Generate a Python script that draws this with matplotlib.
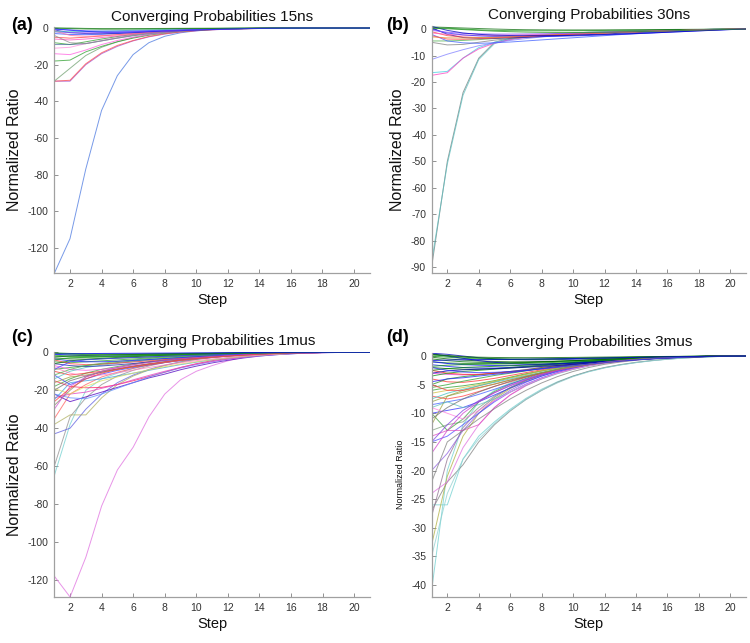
import matplotlib
matplotlib.use('Agg')
import matplotlib.pyplot as plt
import numpy as np

plt.rcParams['font.family'] = ['Liberation Sans', 'DejaVu Sans']

steps = list(range(1, 22))
x_ticks = [2, 4, 6, 8, 10, 12, 14, 16, 18, 20]

titles = ['Converging Probabilities 15ns', 'Converging Probabilities 30ns',
          'Converging Probabilities 1mus', 'Converging Probabilities 3mus']
panel_tags = ['(a)', '(b)', '(c)', '(d)']
y_label = 'Normalized Ratio'
x_label = 'Step'

# ---------------- panel (a) 15ns ----------------
a_lines = [
    [-134, -115, -77, -45, -26, -14.5, -8, -4.5, -2.6, -1.5, -0.9, -0.5, -0.3, -0.2, -0.1, -0.05, 0, 0, 0, 0, 0],
    [-29, -29, -20, -14, -10, -7, -4.8, -3.3, -2.2, -1.5, -1, -0.6, -0.4, -0.25, -0.15, -0.1, -0.05, 0, 0, 0, 0],
    [-29, -28.5, -19.5, -13.5, -9.5, -6.8, -4.6, -3.1, -2.1, -1.4, -0.9, -0.6, -0.4, -0.25, -0.15, -0.1, -0.05, 0, 0, 0, 0],
    [-29, -22, -15, -10.5, -7.5, -5.2, -3.6, -2.5, -1.7, -1.1, -0.7, -0.45, -0.3, -0.2, -0.1, -0.05, 0, 0, 0, 0, 0],
    [-18, -17.5, -13, -10, -7.5, -5.5, -3.9, -2.7, -1.8, -1.2, -0.8, -0.5, -0.3, -0.2, -0.1, -0.05, 0, 0, 0, 0, 0],
    [-14, -14.5, -12, -9, -6.8, -5, -3.6, -2.5, -1.7, -1.1, -0.7, -0.45, -0.3, -0.2, -0.1, -0.05, 0, 0, 0, 0, 0],
    [-11, -10.5, -8.5, -6.8, -5.2, -3.9, -2.8, -2, -1.4, -0.9, -0.6, -0.4, -0.25, -0.15, -0.1, -0.05, 0, 0, 0, 0, 0],
    [-8, -9, -7.5, -6, -4.6, -3.5, -2.6, -1.9, -1.3, -0.9, -0.6, -0.4, -0.25, -0.15, -0.1, -0.05, 0, 0, 0, 0, 0],
    [-9, -9, -8.5, -7, -5.5, -4.2, -3.1, -2.2, -1.5, -1, -0.65, -0.4, -0.25, -0.15, -0.1, -0.05, 0, 0, 0, 0, 0],
    [-6, -6.5, -6, -5.2, -4.3, -3.4, -2.6, -1.9, -1.3, -0.9, -0.6, -0.4, -0.25, -0.15, -0.1, -0.05, 0, 0, 0, 0, 0],
    [-5, -5.5, -5, -4.3, -3.6, -2.9, -2.2, -1.6, -1.1, -0.75, -0.5, -0.3, -0.2, -0.1, -0.05, 0, 0, 0, 0, 0, 0],
    [-4, -8, -8.5, -7, -5.5, -4, -2.9, -2, -1.4, -0.9, -0.6, -0.4, -0.25, -0.15, -0.1, -0.05, 0, 0, 0, 0, 0],
    [-3, -3.5, -3.6, -3.4, -3, -2.6, -2.1, -1.6, -1.2, -0.85, -0.6, -0.4, -0.25, -0.15, -0.1, -0.05, 0, 0, 0, 0, 0],
    [-1, -2.5, -3, -3.1, -2.9, -2.6, -2.2, -1.8, -1.4, -1, -0.7, -0.5, -0.3, -0.2, -0.1, -0.05, 0, 0, 0, 0, 0],
    [-2, -2.5, -2.6, -2.5, -2.3, -2, -1.7, -1.4, -1.1, -0.8, -0.55, -0.38, -0.25, -0.15, -0.1, -0.05, 0, 0, 0, 0, 0],
    [-1.5, -4, -4.5, -4.2, -3.6, -3, -2.4, -1.8, -1.3, -0.9, -0.6, -0.4, -0.25, -0.15, -0.1, -0.05, 0, 0, 0, 0, 0],
    [-2, -2, -1.9, -1.7, -1.5, -1.2, -1, -0.8, -0.6, -0.45, -0.3, -0.2, -0.1, -0.05, 0, 0, 0, 0, 0, 0, 0],
    [-0.5, -1, -1.5, -1.7, -1.7, -1.6, -1.4, -1.2, -1, -0.8, -0.6, -0.4, -0.3, -0.2, -0.1, -0.05, 0, 0, 0, 0, 0],
    [0, -0.3, -0.5, -0.6, -0.6, -0.55, -0.5, -0.4, -0.3, -0.25, -0.2, -0.15, -0.1, -0.05, 0, 0, 0, 0, 0, 0, 0],
    [0, 0, -0.2, -0.3, -0.3, -0.3, -0.25, -0.2, -0.15, -0.1, -0.1, -0.05, 0, 0, 0, 0, 0, 0, 0, 0, 0],
    [-0.5, -1.2, -1.8, -2.2, -2.3, -2.2, -2, -1.7, -1.4, -1.1, -0.8, -0.55, -0.35, -0.2, -0.1, -0.05, 0, 0, 0, 0, 0],
]
a_colors = ['#4a78e0', '#a050d0', '#ff5050', '#70a070', '#30a030', '#ff60e0', '#ff90e0',
            '#30a030', '#5070a0', '#ff50c0', '#ff4040', '#909090', '#3050ff', '#2020c0',
            '#9040ff', '#ff70a0', '#40c0c0', '#4040ff', '#108010', '#208020', '#2020ff']

# ---------------- panel (b) 30ns ----------------
b_lines = [
    [-90, -50, -24, -11, -5, -3.5, -2.7, -2.2, -1.8, -1.5, -1.2, -1, -0.8, -0.6, -0.5, -0.4, -0.3, -0.2, -0.1, -0.05, 0],
    [-88, -51, -25, -11.5, -5.5, -3.8, -2.9, -2.3, -1.9, -1.5, -1.2, -1, -0.8, -0.6, -0.5, -0.4, -0.3, -0.2, -0.1, -0.05, 0],
    [-16.5, -16, -11, -7, -5, -3.8, -3, -2.5, -2.1, -1.8, -1.5, -1.2, -1, -0.8, -0.6, -0.45, -0.3, -0.2, -0.1, -0.05, 0],
    [-17.5, -16.5, -11, -7.5, -5.3, -4, -3.2, -2.6, -2.2, -1.8, -1.5, -1.2, -1, -0.8, -0.6, -0.45, -0.3, -0.2, -0.1, -0.05, 0],
    [-11.5, -9.5, -7.8, -6.3, -5.2, -4.3, -3.6, -3, -2.5, -2.1, -1.7, -1.4, -1.1, -0.85, -0.65, -0.5, -0.35, -0.22, -0.12, -0.05, 0],
    [-5, -6, -5.8, -5, -4.2, -3.6, -3.1, -2.7, -2.3, -2, -1.7, -1.4, -1.15, -0.9, -0.7, -0.52, -0.37, -0.24, -0.13, -0.05, 0],
    [-4.5, -4.5, -4.3, -4, -3.6, -3.2, -2.8, -2.5, -2.2, -1.9, -1.6, -1.35, -1.1, -0.88, -0.68, -0.5, -0.35, -0.22, -0.12, -0.05, 0],
    [-2, -4.5, -5.2, -5.4, -5.2, -4.9, -4.5, -4.1, -3.7, -3.3, -2.9, -2.5, -2.1, -1.75, -1.4, -1.08, -0.8, -0.54, -0.32, -0.14, 0],
    [0.5, -2, -3.2, -3.5, -3.5, -3.3, -3.1, -2.85, -2.6, -2.35, -2.1, -1.85, -1.6, -1.35, -1.1, -0.87, -0.65, -0.45, -0.27, -0.12, 0],
    [-1, -2.5, -3, -3.2, -3.1, -2.9, -2.7, -2.45, -2.2, -1.95, -1.7, -1.47, -1.25, -1.04, -0.84, -0.66, -0.49, -0.34, -0.2, -0.09, 0],
    [-1.5, -2, -2.3, -2.4, -2.4, -2.3, -2.15, -2, -1.83, -1.66, -1.48, -1.3, -1.12, -0.95, -0.78, -0.62, -0.47, -0.33, -0.2, -0.09, 0],
    [0.5, 0.3, 0, -0.3, -0.5, -0.6, -0.65, -0.66, -0.65, -0.62, -0.58, -0.53, -0.47, -0.41, -0.35, -0.29, -0.23, -0.17, -0.11, -0.05, 0],
    [0.8, 0.6, 0.4, 0.2, 0, -0.15, -0.25, -0.3, -0.33, -0.34, -0.33, -0.31, -0.28, -0.25, -0.21, -0.17, -0.13, -0.09, -0.06, -0.03, 0],
    [0, -1.5, -2.2, -2.6, -2.8, -2.9, -2.9, -2.85, -2.75, -2.6, -2.42, -2.22, -2, -1.76, -1.5, -1.22, -0.94, -0.66, -0.4, -0.18, 0],
    [-3, -3.3, -3.4, -3.3, -3.1, -2.9, -2.65, -2.4, -2.15, -1.9, -1.67, -1.45, -1.24, -1.04, -0.85, -0.67, -0.5, -0.35, -0.21, -0.09, 0],
    [-2.5, -3.8, -3.9, -3.7, -3.4, -3.1, -2.8, -2.5, -2.2, -1.95, -1.7, -1.47, -1.25, -1.05, -0.86, -0.68, -0.51, -0.36, -0.22, -0.1, 0],
    [-0.5, -1.2, -1.6, -1.8, -1.9, -1.9, -1.85, -1.78, -1.68, -1.57, -1.44, -1.3, -1.15, -1, -0.84, -0.68, -0.52, -0.37, -0.23, -0.1, 0],
    [1, -0.5, -1.5, -2, -2.3, -2.45, -2.5, -2.48, -2.42, -2.32, -2.2, -2.05, -1.88, -1.68, -1.46, -1.22, -0.97, -0.71, -0.45, -0.21, 0],
    [0.3, 0.1, -0.2, -0.5, -0.8, -1, -1.15, -1.25, -1.3, -1.3, -1.27, -1.2, -1.1, -0.98, -0.85, -0.7, -0.55, -0.4, -0.25, -0.11, 0],
]
b_colors = ['#708080', '#60c0c0', '#40d0e0', '#ff40c0', '#8080ff', '#808080', '#50b050',
            '#4060ff', '#1010a0', '#ff4040', '#ff60c0', '#20a020', '#107010', '#3030ff',
            '#e0a040', '#ff5050', '#9050ff', '#0000c0', '#209020']

# ---------------- panel (c) 1mus ----------------
c_lines = [
    [-118, -129, -108, -81, -62, -50, -34, -22, -14.5, -10, -7, -4.5, -2.6, -1.3, -0.7, -0.4, -0.2, -0.1, 0, 0, 0],
    [-65, -38, -20, -14, -11, -8.5, -6.5, -5, -3.8, -2.8, -2, -1.4, -1, -0.6, -0.4, -0.2, -0.1, 0, 0, 0, 0],
    [-60, -34, -24, -17, -12.5, -9.5, -7.2, -5.4, -4, -3, -2.2, -1.6, -1.1, -0.7, -0.4, -0.2, -0.1, 0, 0, 0, 0],
    [-43, -40, -30, -22, -16, -12, -9, -6.8, -5, -3.7, -2.7, -1.9, -1.3, -0.9, -0.5, -0.3, -0.1, 0, 0, 0, 0],
    [-38, -33, -33, -24, -17, -12.5, -9.3, -7, -5.2, -3.8, -2.8, -2, -1.4, -0.9, -0.5, -0.3, -0.1, 0, 0, 0, 0],
    [-35, -22, -17, -13, -10.5, -8.5, -6.8, -5.4, -4.2, -3.2, -2.4, -1.8, -1.2, -0.8, -0.5, -0.3, -0.1, 0, 0, 0, 0],
    [-22, -26, -23.5, -21, -18.5, -16, -13.5, -11.5, -9.2, -7.3, -5.6, -4.2, -3, -2, -1.3, -0.8, -0.4, -0.2, -0.1, 0, 0],
    [-15, -18, -18.7, -18.5, -17, -15, -12.8, -10.5, -8, -6, -4.4, -3.2, -2.2, -1.5, -1, -0.6, -0.3, -0.15, 0, 0, 0],
    [-22, -24, -24.5, -22, -19, -16, -13, -10.5, -8.3, -6.5, -5, -3.7, -2.7, -1.9, -1.3, -0.8, -0.4, -0.2, -0.1, 0, 0],
    [-24, -22, -21, -19, -17, -14.5, -12.2, -10, -8, -6.2, -4.8, -3.6, -2.6, -1.8, -1.2, -0.7, -0.4, -0.2, 0, 0, 0],
    [-25, -16, -15, -14, -12.5, -11, -9.5, -8, -6.5, -5.2, -4, -3, -2.2, -1.5, -1, -0.6, -0.3, -0.1, 0, 0, 0],
    [-19, -22, -18, -15, -13, -11, -9.2, -7.6, -6.2, -5, -3.9, -3, -2.2, -1.5, -1, -0.6, -0.3, -0.1, 0, 0, 0],
    [-18, -14, -11, -9, -7.5, -6.2, -5, -4, -3.2, -2.5, -1.9, -1.4, -1, -0.7, -0.4, -0.2, -0.1, 0, 0, 0, 0],
    [-12, -17, -14, -11.5, -9.5, -8, -6.6, -5.4, -4.4, -3.5, -2.7, -2, -1.5, -1, -0.7, -0.4, -0.2, -0.1, 0, 0, 0],
    [-10, -12, -11, -10, -8.8, -7.6, -6.4, -5.3, -4.3, -3.4, -2.6, -2, -1.4, -1, -0.6, -0.4, -0.2, -0.1, 0, 0, 0],
    [-28, -20, -13, -10, -8, -6.5, -5.2, -4.2, -3.3, -2.6, -2, -1.5, -1.1, -0.7, -0.5, -0.3, -0.1, 0, 0, 0, 0],
    [-9, -8, -7, -6.2, -5.4, -4.6, -3.9, -3.2, -2.6, -2.1, -1.6, -1.2, -0.9, -0.6, -0.4, -0.2, -0.1, 0, 0, 0, 0],
    [-7, -9, -9.5, -9, -8.2, -7.2, -6.2, -5.2, -4.3, -3.4, -2.7, -2, -1.5, -1, -0.7, -0.4, -0.2, -0.1, 0, 0, 0],
    [-14, -10, -8, -6.8, -5.8, -4.9, -4.1, -3.4, -2.8, -2.2, -1.7, -1.3, -0.9, -0.6, -0.4, -0.2, -0.1, 0, 0, 0, 0],
    [-6, -7, -7.5, -7.2, -6.6, -5.9, -5.1, -4.3, -3.6, -2.9, -2.3, -1.8, -1.3, -0.9, -0.6, -0.4, -0.2, -0.1, 0, 0, 0],
    [-5, -5.5, -5, -4.5, -4, -3.5, -3, -2.5, -2.1, -1.7, -1.3, -1, -0.7, -0.5, -0.3, -0.2, -0.1, 0, 0, 0, 0],
    [-4, -6, -6.5, -6.2, -5.7, -5.1, -4.5, -3.8, -3.2, -2.6, -2.1, -1.6, -1.2, -0.8, -0.5, -0.3, -0.2, -0.1, 0, 0, 0],
    [-3, -3.5, -3.6, -3.4, -3.1, -2.8, -2.5, -2.1, -1.8, -1.5, -1.2, -0.9, -0.7, -0.5, -0.3, -0.2, -0.1, 0, 0, 0, 0],
    [-2, -2.5, -2.6, -2.5, -2.3, -2.1, -1.9, -1.6, -1.4, -1.1, -0.9, -0.7, -0.5, -0.4, -0.2, -0.1, -0.1, 0, 0, 0, 0],
    [-1, -1.5, -1.8, -1.9, -1.8, -1.7, -1.5, -1.3, -1.1, -0.9, -0.7, -0.6, -0.4, -0.3, -0.2, -0.1, 0, 0, 0, 0, 0],
    [-0.5, -1, -1.2, -1.3, -1.3, -1.2, -1.1, -1, -0.8, -0.7, -0.6, -0.4, -0.3, -0.2, -0.1, -0.1, 0, 0, 0, 0, 0],
    [-12, -9, -7, -5.8, -4.8, -4, -3.3, -2.7, -2.2, -1.8, -1.4, -1.1, -0.8, -0.6, -0.4, -0.2, -0.1, 0, 0, 0, 0],
    [-16, -13, -12, -10.5, -9, -7.6, -6.3, -5.2, -4.2, -3.4, -2.7, -2, -1.5, -1, -0.7, -0.4, -0.2, -0.1, 0, 0, 0],
    [-8, -11, -12.5, -12, -10.8, -9.4, -8, -6.7, -5.5, -4.4, -3.5, -2.7, -2, -1.4, -1, -0.6, -0.3, -0.1, 0, 0, 0],
    [-20, -15, -12.5, -10.5, -8.8, -7.3, -6, -4.9, -4, -3.2, -2.5, -1.9, -1.4, -1, -0.6, -0.4, -0.2, -0.1, 0, 0, 0],
    [-1.5, -2, -2.2, -2.2, -2.1, -1.9, -1.7, -1.5, -1.3, -1.1, -0.9, -0.7, -0.5, -0.4, -0.2, -0.1, 0, 0, 0, 0, 0],
    [-3.5, -4.5, -5, -5, -4.7, -4.3, -3.8, -3.3, -2.8, -2.3, -1.9, -1.5, -1.1, -0.8, -0.5, -0.3, -0.2, -0.1, 0, 0, 0],
    [-0.3, -0.6, -0.8, -0.9, -0.9, -0.9, -0.8, -0.7, -0.6, -0.5, -0.4, -0.3, -0.2, -0.2, -0.1, -0.1, 0, 0, 0, 0, 0],
    [-6, -4.5, -3.8, -3.2, -2.7, -2.3, -1.9, -1.6, -1.3, -1.1, -0.9, -0.7, -0.5, -0.4, -0.3, -0.2, -0.1, 0, 0, 0, 0],
    [-30, -18, -13, -10, -8, -6.5, -5.3, -4.3, -3.5, -2.8, -2.2, -1.7, -1.2, -0.8, -0.5, -0.3, -0.2, -0.1, 0, 0, 0],
    [-9, -5, -4, -3.5, -3.1, -2.7, -2.4, -2.1, -1.8, -1.5, -1.2, -1, -0.8, -0.6, -0.4, -0.3, -0.2, -0.1, 0, 0, 0],
    [-26, -19, -14, -11, -9, -7.5, -6.2, -5.1, -4.1, -3.3, -2.6, -2, -1.5, -1, -0.7, -0.4, -0.2, -0.1, 0, 0, 0],
    [-4, -3, -2.6, -2.3, -2, -1.8, -1.6, -1.4, -1.2, -1, -0.8, -0.6, -0.5, -0.4, -0.3, -0.2, -0.1, 0, 0, 0, 0],
    [-2.5, -2, -1.7, -1.5, -1.3, -1.15, -1, -0.9, -0.8, -0.7, -0.6, -0.5, -0.4, -0.3, -0.2, -0.1, 0, 0, 0, 0, 0],
    [-1, -0.8, -0.7, -0.6, -0.55, -0.5, -0.45, -0.4, -0.35, -0.3, -0.25, -0.2, -0.15, -0.1, -0.05, 0, 0, 0, 0, 0, 0],
]
c_colors = ['#e070e0', '#70d0d0', '#909090', '#6060e0', '#b0b060', '#ff6060', '#5000c0', '#ff2060',
            '#6090ff', '#e040c0', '#40a0e0', '#e0e060', '#40a040', '#4040ff', '#ff3030', '#8a8a6a',
            '#30a030', '#ff50e0', '#50c0c0', '#2020b0', '#30a030', '#ff4040', '#107010', '#20a020',
            '#3030ff', '#109010', '#50b050', '#a0a040', '#ff80c0', '#707070', '#20a020', '#2020ff',
            '#108010', '#0a700a', '#d050d0', '#4040ff', '#ff4040', '#20a020', '#107010', '#0000ff']

# ---------------- panel (d) 3mus ----------------
d_lines = [
    [-41, -20, -12, -8, -6, -4.7, -3.7, -2.9, -2.3, -1.8, -1.4, -1.1, -0.8, -0.6, -0.45, -0.3, -0.2, -0.12, -0.06, -0.02, 0],
    [-26, -26, -18, -14, -11.5, -9.3, -7.4, -5.8, -4.5, -3.5, -2.7, -2.05, -1.55, -1.15, -0.82, -0.56, -0.36, -0.21, -0.1, -0.03, 0],
    [-27, -22, -19, -15, -12, -9.6, -7.6, -6, -4.6, -3.5, -2.65, -2, -1.5, -1.1, -0.78, -0.53, -0.34, -0.2, -0.1, -0.03, 0],
    [-33, -21, -14, -10, -7.5, -5.7, -4.3, -3.3, -2.5, -1.9, -1.4, -1.05, -0.78, -0.56, -0.4, -0.27, -0.17, -0.1, -0.05, -0.02, 0],
    [-24, -22, -16, -12, -9, -6.8, -5.1, -3.9, -2.9, -2.2, -1.6, -1.2, -0.88, -0.63, -0.44, -0.3, -0.19, -0.11, -0.05, -0.02, 0],
    [-28, -18, -12.5, -9.5, -7.2, -5.5, -4.2, -3.2, -2.4, -1.8, -1.35, -1, -0.74, -0.54, -0.38, -0.26, -0.16, -0.09, -0.04, -0.01, 0],
    [-20, -17, -13, -10, -7.8, -6, -4.6, -3.5, -2.6, -2, -1.5, -1.1, -0.8, -0.58, -0.41, -0.28, -0.18, -0.1, -0.05, -0.02, 0],
    [-15, -14, -12, -10, -8, -6.3, -4.9, -3.8, -2.9, -2.2, -1.65, -1.22, -0.9, -0.65, -0.45, -0.3, -0.19, -0.11, -0.05, -0.02, 0],
    [-14, -13, -13, -12, -9, -6.8, -5.2, -4, -3, -2.3, -1.7, -1.25, -0.92, -0.66, -0.46, -0.31, -0.2, -0.11, -0.05, -0.02, 0],
    [-13, -12, -11.5, -9, -7, -5.5, -4.3, -3.3, -2.5, -1.9, -1.4, -1.05, -0.78, -0.56, -0.39, -0.26, -0.16, -0.09, -0.04, -0.01, 0],
    [-10, -13, -11, -8, -6.2, -4.9, -3.9, -3, -2.3, -1.75, -1.3, -0.97, -0.72, -0.52, -0.36, -0.24, -0.15, -0.08, -0.04, -0.01, 0],
    [-10, -9.5, -9, -8, -6.8, -5.6, -4.5, -3.5, -2.7, -2.05, -1.55, -1.15, -0.85, -0.61, -0.43, -0.29, -0.18, -0.1, -0.05, -0.02, 0],
    [-8.5, -8, -7.5, -6.7, -5.8, -4.9, -4, -3.2, -2.5, -1.95, -1.5, -1.12, -0.83, -0.6, -0.42, -0.28, -0.18, -0.1, -0.05, -0.02, 0],
    [-12, -7, -6, -5.2, -4.5, -3.8, -3.2, -2.6, -2.1, -1.65, -1.28, -0.97, -0.73, -0.53, -0.37, -0.25, -0.16, -0.09, -0.04, -0.01, 0],
    [-9, -8, -9, -8.5, -7.5, -6.3, -5.1, -4, -3.1, -2.35, -1.75, -1.3, -0.95, -0.68, -0.47, -0.31, -0.2, -0.11, -0.05, -0.02, 0],
    [-7, -7.5, -7, -6.2, -5.3, -4.5, -3.7, -3, -2.4, -1.85, -1.42, -1.07, -0.8, -0.58, -0.41, -0.28, -0.17, -0.1, -0.05, -0.02, 0],
    [-22, -15, -13, -11, -9.2, -7.5, -6, -4.7, -3.6, -2.7, -2, -1.45, -1.05, -0.74, -0.5, -0.33, -0.2, -0.11, -0.05, -0.02, 0],
    [-35, -24, -18, -14.5, -11.8, -9.5, -7.6, -6, -4.7, -3.6, -2.75, -2.08, -1.56, -1.15, -0.82, -0.56, -0.36, -0.21, -0.1, -0.03, 0],
    [-6, -5.5, -5.2, -4.8, -4.3, -3.7, -3.1, -2.6, -2.1, -1.65, -1.28, -0.97, -0.73, -0.53, -0.37, -0.25, -0.16, -0.09, -0.04, -0.01, 0],
    [-4, -4.5, -4.6, -4.3, -3.9, -3.4, -2.9, -2.4, -1.95, -1.55, -1.2, -0.92, -0.69, -0.5, -0.35, -0.24, -0.15, -0.08, -0.04, -0.01, 0],
    [-3, -3.2, -3.3, -3.2, -3, -2.7, -2.35, -2, -1.65, -1.33, -1.05, -0.8, -0.6, -0.44, -0.31, -0.21, -0.13, -0.07, -0.03, -0.01, 0],
    [-5, -4, -3.6, -3.3, -3, -2.7, -2.4, -2, -1.7, -1.4, -1.1, -0.85, -0.65, -0.48, -0.34, -0.23, -0.14, -0.08, -0.04, -0.01, 0],
    [-2, -2.2, -2.3, -2.3, -2.2, -2, -1.8, -1.6, -1.35, -1.12, -0.9, -0.71, -0.54, -0.4, -0.29, -0.2, -0.12, -0.07, -0.03, -0.01, 0],
    [-1.5, -1.8, -2, -2.1, -2.1, -2, -1.85, -1.65, -1.45, -1.22, -1, -0.8, -0.62, -0.46, -0.33, -0.22, -0.14, -0.08, -0.04, -0.01, 0],
    [0.5, 0.3, 0, -0.3, -0.5, -0.6, -0.65, -0.65, -0.62, -0.57, -0.5, -0.43, -0.36, -0.29, -0.22, -0.16, -0.11, -0.07, -0.03, -0.01, 0],
    [0, -0.2, -0.4, -0.5, -0.6, -0.6, -0.6, -0.56, -0.5, -0.44, -0.38, -0.32, -0.26, -0.2, -0.15, -0.11, -0.07, -0.04, -0.02, -0.01, 0],
    [-1, -1.2, -1.3, -1.3, -1.3, -1.25, -1.15, -1.05, -0.93, -0.8, -0.67, -0.55, -0.44, -0.34, -0.25, -0.18, -0.11, -0.06, -0.03, -0.01, 0],
    [-2.5, -3, -3.2, -3.2, -3, -2.8, -2.5, -2.15, -1.8, -1.47, -1.17, -0.9, -0.68, -0.5, -0.35, -0.24, -0.15, -0.08, -0.04, -0.01, 0],
    [-6.5, -6, -5.5, -5, -4.4, -3.8, -3.2, -2.6, -2.1, -1.65, -1.27, -0.96, -0.71, -0.51, -0.36, -0.24, -0.15, -0.08, -0.04, -0.01, 0],
    [-9, -10, -11, -9.5, -7.8, -6.3, -5, -3.9, -3, -2.3, -1.7, -1.25, -0.92, -0.66, -0.46, -0.31, -0.19, -0.11, -0.05, -0.02, 0],
    [-15, -12, -9.5, -7.8, -6.4, -5.2, -4.2, -3.3, -2.6, -2, -1.5, -1.12, -0.82, -0.59, -0.41, -0.27, -0.17, -0.1, -0.05, -0.02, 0],
    [-5.5, -5, -4.4, -3.9, -3.4, -3, -2.6, -2.2, -1.85, -1.5, -1.2, -0.93, -0.71, -0.52, -0.37, -0.25, -0.16, -0.09, -0.04, -0.01, 0],
    [-4.5, -4, -3.8, -3.5, -3.2, -2.9, -2.55, -2.2, -1.85, -1.52, -1.22, -0.95, -0.73, -0.54, -0.38, -0.26, -0.16, -0.09, -0.04, -0.01, 0],
    [-3.5, -3, -2.7, -2.5, -2.3, -2.1, -1.9, -1.7, -1.48, -1.26, -1.05, -0.85, -0.67, -0.51, -0.37, -0.26, -0.17, -0.1, -0.05, -0.02, 0],
    [-0.5, -0.8, -1, -1.1, -1.15, -1.15, -1.1, -1.02, -0.93, -0.83, -0.72, -0.6, -0.49, -0.38, -0.29, -0.21, -0.14, -0.08, -0.04, -0.01, 0],
    [-1, -1.3, -1.5, -1.6, -1.65, -1.62, -1.55, -1.45, -1.32, -1.17, -1, -0.84, -0.68, -0.53, -0.4, -0.28, -0.18, -0.1, -0.05, -0.02, 0],
    [-2.5, -2.2, -2, -1.9, -1.8, -1.7, -1.58, -1.45, -1.3, -1.14, -0.98, -0.82, -0.66, -0.52, -0.39, -0.27, -0.18, -0.1, -0.05, -0.02, 0],
    [-7.5, -6.5, -5.8, -5.2, -4.6, -4, -3.4, -2.85, -2.35, -1.9, -1.5, -1.15, -0.86, -0.62, -0.43, -0.29, -0.18, -0.1, -0.05, -0.02, 0],
    [-5, -6, -6, -5.5, -4.9, -4.2, -3.6, -3, -2.45, -1.95, -1.52, -1.16, -0.87, -0.63, -0.44, -0.3, -0.19, -0.1, -0.05, -0.02, 0],
    [-11, -9, -7.5, -6.3, -5.3, -4.4, -3.6, -2.95, -2.4, -1.9, -1.48, -1.13, -0.85, -0.62, -0.43, -0.29, -0.18, -0.1, -0.05, -0.02, 0],
    [-0.2, -0.5, -0.7, -0.85, -0.95, -1, -1, -0.96, -0.9, -0.82, -0.72, -0.61, -0.5, -0.4, -0.3, -0.21, -0.14, -0.08, -0.04, -0.01, 0],
    [0.4, 0, -0.4, -0.8, -1.1, -1.3, -1.4, -1.4, -1.35, -1.25, -1.1, -0.95, -0.79, -0.63, -0.48, -0.34, -0.22, -0.13, -0.06, -0.02, 0],
    [0.2, 0, -0.2, -0.35, -0.45, -0.5, -0.52, -0.5, -0.47, -0.42, -0.37, -0.31, -0.25, -0.2, -0.15, -0.11, -0.07, -0.04, -0.02, -0.01, 0],
    [-3, -2.6, -2.4, -2.3, -2.2, -2.1, -1.97, -1.82, -1.64, -1.44, -1.23, -1.02, -0.82, -0.63, -0.47, -0.33, -0.21, -0.12, -0.06, -0.02, 0],
    [-1.8, -1.6, -1.5, -1.45, -1.4, -1.35, -1.28, -1.2, -1.1, -0.98, -0.86, -0.73, -0.6, -0.47, -0.36, -0.26, -0.17, -0.1, -0.05, -0.02, 0],
    [-17, -13, -10, -8, -6.4, -5.1, -4.1, -3.2, -2.5, -1.92, -1.45, -1.08, -0.79, -0.57, -0.4, -0.27, -0.17, -0.1, -0.05, -0.02, 0],
    [-8, -7, -6.3, -5.6, -4.9, -4.2, -3.5, -2.9, -2.35, -1.88, -1.46, -1.12, -0.84, -0.61, -0.43, -0.29, -0.18, -0.1, -0.05, -0.02, 0],
    [-2, -2.5, -2.8, -2.9, -2.85, -2.7, -2.5, -2.25, -1.98, -1.7, -1.42, -1.15, -0.9, -0.68, -0.49, -0.33, -0.21, -0.12, -0.06, -0.02, 0],
    [0.3, 0.1, -0.1, -0.2, -0.25, -0.28, -0.29, -0.28, -0.26, -0.24, -0.21, -0.18, -0.15, -0.12, -0.09, -0.07, -0.05, -0.03, -0.02, -0.01, 0],
    [-0.8, -0.7, -0.65, -0.62, -0.6, -0.58, -0.55, -0.52, -0.48, -0.44, -0.39, -0.34, -0.29, -0.24, -0.19, -0.14, -0.1, -0.06, -0.03, -0.01, 0],
]
d_colors = ['#70d0d0', '#70d0d0', '#808080', '#b0b040', '#e070e0', '#907090', '#9060e0', '#5050ff',
            '#e050c0', '#80a080', '#40a040', '#3030ff', '#4060ff', '#a0a040', '#60c0c0', '#ff4040',
            '#808080', '#90d0d0', '#30a030', '#ff3030', '#e040e0', '#209020', '#107010', '#2020ff',
            '#0000c0', '#10a010', '#108010', '#ff2020', '#d0c040', '#ff80e0', '#8040e0', '#30a030',
            '#2020ff', '#109010', '#007000', '#0000ff', '#008000', '#40c0c0', '#ff4040', '#707070',
            '#006000', '#0000d0', '#008000', '#0000a0', '#109010', '#d040d0', '#90a040', '#3030ff',
            '#006000', '#0000e0']

panels = [
    (a_lines, a_colors, (-133.7, 0.3), [-120, -100, -80, -60, -40, -20, 0], 11.5),
    (b_lines, b_colors, (-92.2, 1.0), [-90, -80, -70, -60, -50, -40, -30, -20, -10, 0], 11.5),
    (c_lines, c_colors, (-129.0, 0.0), [-120, -100, -80, -60, -40, -20, 0], 11.5),
    (d_lines, d_colors, (-42.1, 0.6), [-40, -35, -30, -25, -20, -15, -10, -5, 0], 6.5),
]

W, H = 750.0, 643.0
boxes = [
    (54.2, 27.5, 369.8, 273.0),
    (431.6, 26.4, 746.0, 273.0),
    (54.3, 352.3, 369.9, 597.0),
    (431.6, 352.6, 746.0, 597.0),
]
tag_pos = [(11, 25), (386, 25), (11, 337), (386, 337)]

fig = plt.figure(figsize=(7.5, 6.43), dpi=100)

for i, (lines, cols, ylim, yt, ylfs) in enumerate(panels):
    x0, y0, x1, y1 = boxes[i]
    ax = fig.add_axes([x0 / W, 1 - y1 / H, (x1 - x0) / W, (y1 - y0) / H])
    for j, ln in enumerate(lines):
        ax.plot(steps, ln, color=cols[j % len(cols)], lw=0.7, alpha=0.75)
    ax.set_xlim(1, 21)
    ax.set_ylim(*ylim)
    ax.set_xticks(x_ticks)
    ax.set_yticks(yt)
    ax.set_yticklabels([str(v) for v in yt])
    ax.set_xticklabels([str(v) for v in x_ticks])
    for s in ['top', 'right']:
        ax.spines[s].set_visible(False)
    for s in ['left', 'bottom']:
        ax.spines[s].set_color('#a0a0a0')
        ax.spines[s].set_linewidth(0.9)
    ax.tick_params(direction='in', length=3, width=0.6, color='#808080',
                   labelcolor='#333333', labelsize=7.5, pad=4)
    ax.set_title(titles[i], fontsize=11, pad=5, color='#111111')
    ax.set_xlabel(x_label, fontsize=10.5, labelpad=3, color='#111111')
    ax.set_ylabel(y_label, fontsize=ylfs, labelpad=4, color='#111111')
    fig.text(tag_pos[i][0] / W, 1 - tag_pos[i][1] / H, panel_tags[i],
             fontsize=13, fontweight='bold', va='center', ha='left')

fig.savefig('out.png', dpi=100)
